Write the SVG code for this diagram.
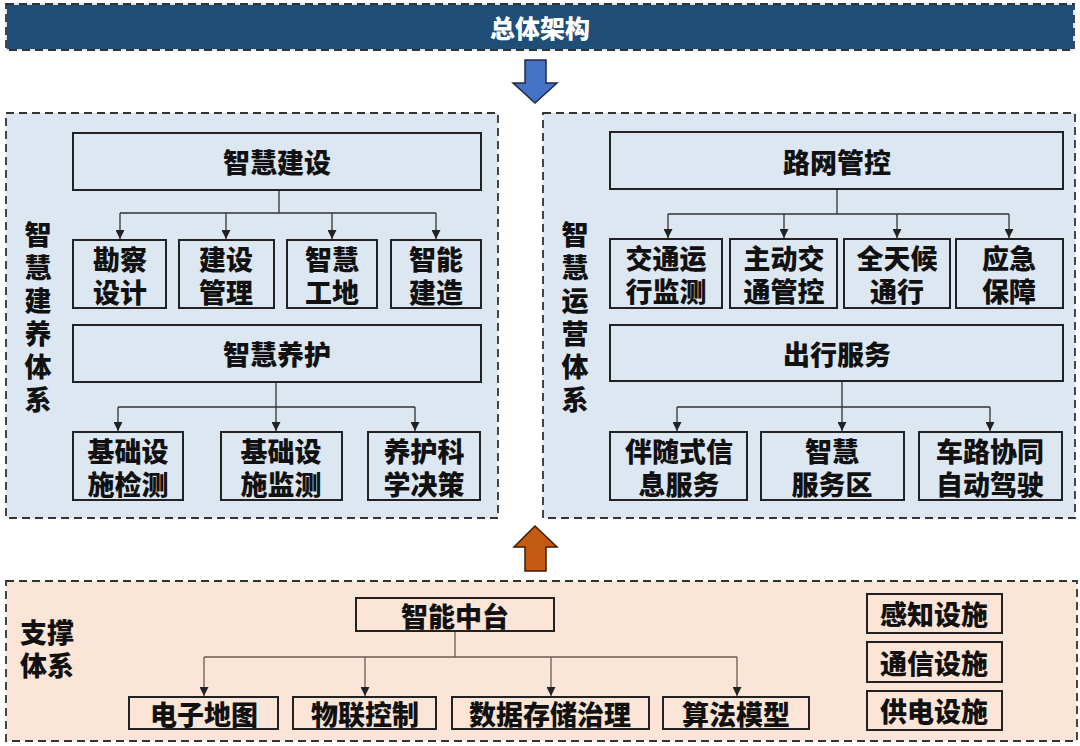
<svg xmlns="http://www.w3.org/2000/svg" width="1080" height="746" viewBox="0 0 1080 746">
<style>
text{font-family:"Noto Sans CJK SC","Noto Sans",sans-serif;font-weight:900;fill:#111;text-anchor:middle;dominant-baseline:central;font-size:27px}
.vt{writing-mode:vertical-rl;dominant-baseline:auto;letter-spacing:6px}
.panel{stroke:#333;stroke-width:1.8;stroke-dasharray:8 5}
.box{fill:none;stroke:#222;stroke-width:2}
.conn{fill:none;stroke:#333;stroke-width:1.3}
.connb{fill:none;stroke:#6e5a50;stroke-width:1.3}
</style>
<defs>
<marker id="ah" viewBox="0 0 10 10" refX="10" refY="5" markerWidth="9" markerHeight="9" markerUnits="userSpaceOnUse" orient="auto">
<path d="M0,0 L10,5 L0,10 z" fill="#222"/>
</marker>
</defs>
<rect width="1080" height="746" fill="#fff"/>

<g id="title">
<rect x="6" y="4" width="1068" height="46" fill="#1f4e79" stroke="#e8eef5" stroke-width="1.8"/>
<rect x="6" y="4" width="1068" height="46" fill="none" class="panel" stroke="#111"/>
<text x="540" y="27" style="fill:#fff;font-size:25px">总体架构</text>
</g>

<g id="arrow-down">
<path d="M525,60 H546 V83 H557 L535,103 L513,83 H525 Z" fill="#4472c4" stroke="#1f2a44" stroke-width="1.5"/>
</g>

<g id="panel-left">
<rect x="6" y="113" width="492" height="405" fill="#dde7f2" class="panel"/>
<text class="vt" x="38" y="320">智慧建养体系</text>
</g>

<g id="panel-right">
<rect x="543" y="113" width="532" height="405" fill="#dde7f2" class="panel"/>
<text class="vt" x="575" y="320">智慧运营体系</text>
</g>

<g id="arrow-up">
<path d="M525,571 H546 V547 H557 L535,526 L514,547 H525 Z" fill="#c55a11" stroke="#3a1a08" stroke-width="1.5"/>
</g>

<g id="panel-bottom">
<rect x="6" y="581" width="1071" height="160" fill="#fbe5d6" class="panel"/>
<text x="47" y="631">支撑<tspan x="47" dy="33">体系</tspan></text>
</g>

<g id="connectors">
<path class="conn" d="M279,190 V213 M120,213 H436"/>
<path class="conn" d="M120,213 V239" marker-end="url(#ah)"/>
<path class="conn" d="M226,213 V239" marker-end="url(#ah)"/>
<path class="conn" d="M332,213 V239" marker-end="url(#ah)"/>
<path class="conn" d="M436,213 V239" marker-end="url(#ah)"/>
<path class="conn" d="M276,382 V407 M118,407 H415"/>
<path class="conn" d="M118,407 V431" marker-end="url(#ah)"/>
<path class="conn" d="M276,407 V431" marker-end="url(#ah)"/>
<path class="conn" d="M415,407 V431" marker-end="url(#ah)"/>
<path class="conn" d="M837,189 V214 M668,214 H1009"/>
<path class="conn" d="M668,214 V238" marker-end="url(#ah)"/>
<path class="conn" d="M784,214 V238" marker-end="url(#ah)"/>
<path class="conn" d="M897,214 V238" marker-end="url(#ah)"/>
<path class="conn" d="M1009,214 V238" marker-end="url(#ah)"/>
<path class="conn" d="M842,381 V407 M677,407 H990"/>
<path class="conn" d="M677,407 V431" marker-end="url(#ah)"/>
<path class="conn" d="M842,407 V431" marker-end="url(#ah)"/>
<path class="conn" d="M990,407 V431" marker-end="url(#ah)"/>
<path class="connb" d="M455,631 V657 M204,657 H737"/>
<path class="connb" d="M204,657 V696" marker-end="url(#ah)"/>
<path class="connb" d="M365,657 V696" marker-end="url(#ah)"/>
<path class="connb" d="M551,657 V696" marker-end="url(#ah)"/>
<path class="connb" d="M737,657 V696" marker-end="url(#ah)"/>
</g>

<g id="n-zhjs"><rect class="box" x="73" y="133" width="408" height="57"/><text x="277" y="161">智慧建设</text></g>
<g id="n-kcsj"><rect class="box" x="73" y="240" width="93" height="68"/><text x="120" y="258">勘察<tspan x="120" dy="33">设计</tspan></text></g>
<g id="n-jsgl"><rect class="box" x="179" y="240" width="95" height="68"/><text x="226" y="258">建设<tspan x="226" dy="33">管理</tspan></text></g>
<g id="n-zhgd"><rect class="box" x="287" y="240" width="90" height="68"/><text x="332" y="258">智慧<tspan x="332" dy="33">工地</tspan></text></g>
<g id="n-znjz"><rect class="box" x="391" y="240" width="90" height="68"/><text x="436" y="258">智能<tspan x="436" dy="33">建造</tspan></text></g>
<g id="n-zhyh"><rect class="box" x="73" y="325" width="408" height="57"/><text x="277" y="353">智慧养护</text></g>
<g id="n-jcjc"><rect class="box" x="73" y="432" width="110" height="68"/><text x="128" y="450">基础设<tspan x="128" dy="33">施检测</tspan></text></g>
<g id="n-jcjc2"><rect class="box" x="221" y="432" width="121" height="68"/><text x="281" y="450">基础设<tspan x="281" dy="33">施监测</tspan></text></g>
<g id="n-yhkx"><rect class="box" x="368" y="432" width="112" height="68"/><text x="424" y="450">养护科<tspan x="424" dy="33">学决策</tspan></text></g>

<g id="n-lwgk"><rect class="box" x="610" y="132" width="453" height="57"/><text x="837" y="161">路网管控</text></g>
<g id="n-jtyx"><rect class="box" x="610" y="239" width="112" height="69"/><text x="666" y="257">交通运<tspan x="666" dy="33">行监测</tspan></text></g>
<g id="n-zdjt"><rect class="box" x="730" y="239" width="107" height="69"/><text x="784" y="257">主动交<tspan x="784" dy="33">通管控</tspan></text></g>
<g id="n-qthtx"><rect class="box" x="844" y="239" width="106" height="69"/><text x="897" y="257">全天候<tspan x="897" dy="33">通行</tspan></text></g>
<g id="n-yjbz"><rect class="box" x="956" y="239" width="107" height="69"/><text x="1009" y="257">应急<tspan x="1009" dy="33">保障</tspan></text></g>
<g id="n-cxfw"><rect class="box" x="610" y="325" width="453" height="56"/><text x="837" y="353">出行服务</text></g>
<g id="n-bss"><rect class="box" x="610" y="432" width="137" height="68"/><text x="679" y="450">伴随式信<tspan x="679" dy="33">息服务</tspan></text></g>
<g id="n-zhfwq"><rect class="box" x="761" y="432" width="143" height="68"/><text x="832" y="450">智慧<tspan x="832" dy="33">服务区</tspan></text></g>
<g id="n-clxt"><rect class="box" x="919" y="432" width="143" height="68"/><text x="990" y="450">车路协同<tspan x="990" dy="33">自动驾驶</tspan></text></g>

<g id="n-znzt"><rect class="box" x="356" y="598" width="198" height="33"/><text x="455" y="615">智能中台</text></g>
<g id="n-dzdt"><rect class="box" x="129" y="697" width="149" height="32"/><text x="204" y="713">电子地图</text></g>
<g id="n-wlkz"><rect class="box" x="293" y="697" width="143" height="32"/><text x="365" y="713">物联控制</text></g>
<g id="n-sjcc"><rect class="box" x="452" y="697" width="197" height="32"/><text x="550" y="713">数据存储治理</text></g>
<g id="n-sfmx"><rect class="box" x="663" y="697" width="146" height="32"/><text x="736" y="713">算法模型</text></g>
<g id="n-gzss"><rect class="box" x="867" y="594" width="135" height="39"/><text x="934" y="613">感知设施</text></g>
<g id="n-txss"><rect class="box" x="867" y="642" width="135" height="40"/><text x="934" y="662">通信设施</text></g>
<g id="n-gdss"><rect class="box" x="867" y="691" width="135" height="39"/><text x="934" y="710">供电设施</text></g>
</svg>
